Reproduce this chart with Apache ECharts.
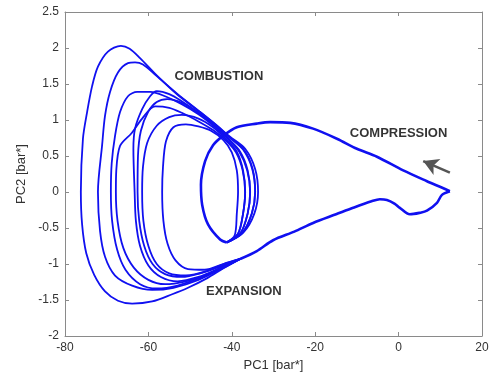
<!DOCTYPE html>
<html>
<head>
<meta charset="utf-8">
<script src="https://cdn.jsdelivr.net/npm/echarts@6/dist/echarts.min.js"></script>
<style>html,body{margin:0;padding:0;background:#fff}#c{width:494px;height:377px}</style>
</head>
<body>
<div id="c"></div>
<script>
var xTicks = [-80, -60, -40, -20, 0, 20];
var yTicks = [-2, -1.5, -1, -0.5, 0, 0.5, 1, 1.5, 2, 2.5];

var compression = [[12.3,0.01],[10.6,0.055],[6.8,0.15],[1.1,0.30],[-5.2,0.49],[-10,0.60],[-14.8,0.74],[-20.5,0.88],[-26,0.96],[-30.8,0.97],[-34,0.95],[-38.8,0.90],[-42.1,0.78],[-44.5,0.65],[-46.4,0.43],[-47.4,0.1],[-47.1,-0.18],[-45.7,-0.45],[-42.8,-0.66],[-41.2,-0.70]];

var expansion = [[-38,-0.93],[-34,-0.82],[-30.1,-0.67],[-25,-0.55],[-20.5,-0.43],[-15,-0.31],[-10.9,-0.22],[-6.5,-0.13],[-4.5,-0.1],[-2.8,-0.11],[-1,-0.16],[0.3,-0.22],[2.7,-0.31],[5,-0.29],[6.8,-0.26],[9.2,-0.15],[10.4,-0.04],[12.3,0.01]];

var loopA = [[-41.2,-0.70],[-37.2,-0.56],[-34.6,-0.3],[-33.7,0],[-34.4,0.32],[-36.8,0.6],[-40.5,0.77],[-43.5,0.92],[-47.6,1.11],[-53,1.35],[-58,1.62],[-62,1.86],[-64.5,1.99],[-66.6,2.03],[-69.7,1.95],[-72.1,1.74],[-73.5,1.47],[-74.7,1.11],[-75.7,0.74],[-76.2,0],[-75.9,-0.45],[-74.9,-0.85],[-73,-1.15],[-70.4,-1.38],[-67.3,-1.51],[-63.9,-1.55],[-59.1,-1.52],[-54.3,-1.42],[-50.5,-1.33],[-46,-1.2],[-42,-1.06],[-38,-0.93]];
var loopB = [[-41.2,-0.70],[-37.5,-0.57],[-35.2,-0.3],[-34.4,0],[-35.1,0.32],[-37.3,0.59],[-40.8,0.77],[-43.8,0.93],[-47.8,1.12],[-53.2,1.37],[-58.2,1.62],[-61.3,1.77],[-63.2,1.80],[-64.9,1.79],[-67.3,1.66],[-69.2,1.39],[-70.4,1.06],[-71.1,0.65],[-72.1,0],[-71.6,-0.54],[-70.4,-0.9],[-68,-1.16],[-63.9,-1.3],[-59.1,-1.36],[-54,-1.33],[-48,-1.22],[-42,-1.05],[-38,-0.93]];
var loopC = [[-41.2,-0.70],[-38,-0.58],[-36.2,-0.3],[-35.6,0],[-36.3,0.3],[-38.2,0.56],[-41,0.74],[-44,0.9],[-48,1.08],[-52,1.22],[-56,1.33],[-59.5,1.39],[-62.7,1.39],[-64.9,1.33],[-66.8,1.11],[-68,0.78],[-68.8,0.4],[-69,0],[-68.7,-0.4],[-67.5,-0.8],[-65.5,-1.08],[-62,-1.28],[-58,-1.34],[-53,-1.3],[-47,-1.18],[-42,-1.05],[-38,-0.93]];
var loopD = [[-41.2,-0.70],[-38.5,-0.58],[-37.3,-0.3],[-36.8,0],[-37.4,0.3],[-39,0.55],[-41.5,0.72],[-44.5,0.86],[-48,0.98],[-52,1.1],[-55,1.17],[-58.4,1.19],[-61.5,1.02],[-64,0.82],[-66.8,0.64],[-67.7,0.3],[-67.8,0],[-67.4,-0.4],[-66,-0.78],[-63.5,-1.05],[-60,-1.22],[-56,-1.28],[-51,-1.24],[-46,-1.15],[-42,-1.03],[-38,-0.93]];
var loopE = [[-41.2,-0.70],[-38,-0.58],[-36.2,-0.3],[-35.6,0],[-36.2,0.3],[-38,0.56],[-41,0.75],[-44,0.92],[-48,1.1],[-52,1.26],[-55,1.36],[-58,1.40],[-59.6,1.33],[-61.5,1.15],[-63.2,0.88],[-63.6,0.6],[-63.3,0],[-63,-0.4],[-62,-0.75],[-60,-1.02],[-57,-1.18],[-53,-1.24],[-48,-1.18],[-43,-1.06],[-38,-0.93]];
var loopF = [[-41.2,-0.70],[-37.5,-0.57],[-35.2,-0.3],[-34.4,0],[-35,0.32],[-37,0.58],[-40.5,0.76],[-44,0.93],[-48,1.1],[-52,1.24],[-55.5,1.29],[-58,1.25],[-60,1.12],[-61.8,0.85],[-62.5,0.5],[-62.6,0],[-62.2,-0.4],[-61,-0.75],[-59,-1.0],[-56,-1.14],[-52,-1.18],[-47,-1.12],[-42,-1.02],[-38,-0.93]];
var loopG = [[-41.2,-0.70],[-38.5,-0.58],[-37.3,-0.3],[-36.8,0],[-37.3,0.3],[-38.8,0.56],[-41.5,0.74],[-44.5,0.9],[-48,1.02],[-52,1.07],[-55,1.04],[-58,0.92],[-60.3,0.68],[-61.3,0.35],[-61.5,0],[-61.2,-0.4],[-60,-0.75],[-58,-1.0],[-55,-1.13],[-51,-1.16],[-46,-1.1],[-42,-1.0],[-38,-0.93]];
var loopH = [[-41.2,-0.70],[-39.3,-0.6],[-38.8,-0.3],[-38.5,0],[-38.8,0.3],[-40,0.55],[-42,0.72],[-45,0.85],[-48,0.91],[-51,0.94],[-54,0.9],[-55.8,0.7],[-56.5,0.35],[-56.7,0],[-56.4,-0.4],[-55.4,-0.72],[-53.5,-0.95],[-50.5,-1.07],[-46.5,-1.08],[-42,-1.0],[-38,-0.93]];

var phaseLabels = [['COMBUSTION', -43.1, 1.60], ['COMPRESSION', 0.0, 0.82], ['EXPANSION', -37.1, -1.385]];
var arrowFrom = [12.3, 0.27];
var arrowTo = [5.9, 0.43];

var chart = echarts.init(document.getElementById('c'));
var lineColor = '#1010f0';
var font = 'Liberation Sans, Arial, Helvetica, sans-serif';

function loopSeries(d, w) {
  return { type: 'line', data: d, showSymbol: false, smooth: 0.3, xAxisIndex: 0, yAxisIndex: 0,
    lineStyle: { color: lineColor, width: w }, silent: true, z: 3 };
}

var axisLineStyle = { onZero: false, lineStyle: { color: '#8a8a8a', width: 1 } };
var tickStyle = { inside: true, length: 4, lineStyle: { color: '#8a8a8a' } };

var series = [loopA, loopB, loopC, loopD, loopE, loopF, loopG, loopH].map(function (d) { return loopSeries(d, 1.8); });
series.push(loopSeries(compression, 2.6));
series.push(loopSeries(expansion, 2.6));
series.push({
  type: 'scatter', symbolSize: 1, silent: true, z: 5,
  itemStyle: { color: 'rgba(0,0,0,0)' },
  data: phaseLabels.map(function (p) { return { value: [p[1], p[2]], name: p[0] }; }),
  label: { show: true, position: 'inside', formatter: '{b}', color: '#000', fontWeight: 'bold', fontSize: 13, fontFamily: font }
});
series.push({
  type: 'line', data: [], silent: true,
  markLine: {
    silent: true, symbol: ['none', 'arrow'], symbolSize: [13, 15], animation: false,
    lineStyle: { color: '#555', width: 2.5, type: 'solid' }, label: { show: false },
    data: [[{ coord: arrowFrom }, { coord: arrowTo }]]
  }
});

chart.setOption({
  animation: false,
  backgroundColor: '#fff',
  grid: { left: 65, right: 12, top: 12, bottom: 37, containLabel: false },
  xAxis: [{
    type: 'value', min: xTicks[0], max: xTicks[xTicks.length - 1], interval: 20,
    name: 'PC1 [bar*]', nameLocation: 'middle', nameGap: 23,
    nameTextStyle: { color: '#333', fontSize: 13, fontFamily: font },
    axisLine: axisLineStyle, axisTick: tickStyle, splitLine: { show: false },
    axisLabel: { color: '#333', fontSize: 12, fontFamily: font, margin: 6 }
  }, {
    type: 'value', position: 'top', min: xTicks[0], max: xTicks[xTicks.length - 1], interval: 20,
    axisLine: axisLineStyle, axisTick: tickStyle, splitLine: { show: false }, axisLabel: { show: false }
  }],
  yAxis: [{
    type: 'value', min: yTicks[0], max: yTicks[yTicks.length - 1], interval: 0.5,
    name: 'PC2 [bar*]', nameLocation: 'middle', nameGap: 33, nameRotate: 90,
    nameTextStyle: { color: '#333', fontSize: 13, fontFamily: font },
    axisLine: axisLineStyle, axisTick: tickStyle, splitLine: { show: false },
    axisLabel: { color: '#333', fontSize: 12, fontFamily: font, margin: 6 }
  }, {
    type: 'value', position: 'right', min: yTicks[0], max: yTicks[yTicks.length - 1], interval: 0.5,
    axisLine: axisLineStyle, axisTick: tickStyle, splitLine: { show: false }, axisLabel: { show: false }
  }],
  series: series
});
</script>
</body>
</html>
